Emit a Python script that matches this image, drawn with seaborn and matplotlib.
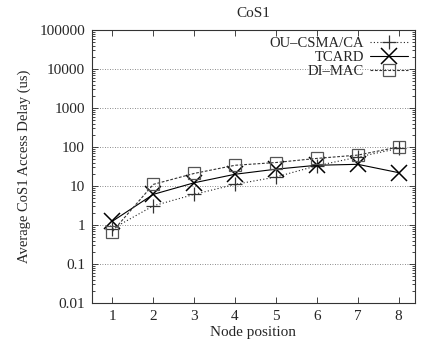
import matplotlib
matplotlib.use("Agg")
import matplotlib.pyplot as plt
import matplotlib.ticker as mticker
import seaborn as sns
import pandas as pd
import numpy as np

nodes = [1, 2, 3, 4, 5, 6, 7, 8]
ou_csma = [0.8, 3.1, 6.1, 11, 17, 33, 55, 92]
tcard = [1.25, 6.1, 12.1, 20, 27, 34, 36, 22]
di_mac = [0.68, 11, 21, 34, 40, 51, 62, 100]
series_names = ["OU\u2013CSMA/CA", "TCARD", "DI\u2013MAC"]
x_ticks = [1, 2, 3, 4, 5, 6, 7, 8]
y_ticks = [0.01, 0.1, 1, 10, 100, 1000, 10000, 100000]
y_tick_labels = ["0.01", "0.1", "1", "10", "100", "1000", "10000", "100000"]

sns.set_style("ticks")
plt.rcParams["font.family"] = ["Liberation Serif", "DejaVu Serif"]

fig = plt.figure(figsize=(4.21, 3.48), dpi=100)
ax = fig.add_axes([0.2185, 0.1293, 0.767, 0.7845])

styles = [
    dict(marker="+", ms=10, mew=0.9, ls=(0, (1, 2)), color="#222222", mec="#333333"),
    dict(marker="x", ms=11, mew=1.1, ls="-", color="#000000", mec="#000000"),
    dict(marker="s", ms=9, mew=0.9, ls=(0, (2.5, 1.5)), color="#333333", mec="#555555"),
]
for vals, name, st in zip([ou_csma, tcard, di_mac], series_names, styles):
    d = pd.DataFrame({"node": nodes, "delay": vals})
    sns.lineplot(data=d, x="node", y="delay", ax=ax, color=st["color"],
                 linestyle=st["ls"], linewidth=0.8, marker=st["marker"],
                 markersize=st["ms"], markeredgewidth=st["mew"],
                 markeredgecolor=st["mec"], markerfacecolor="none", label=name)

ax.set_yscale("log")
ax.set_ylim(0.01, 100000)
ax.set_xlim(0.5, 8.4)
ax.set_xticks(x_ticks)
ax.set_xticklabels([str(v) for v in x_ticks])
ax.set_yticks(y_ticks)
ax.set_yticklabels(y_tick_labels)
ax.yaxis.set_minor_locator(mticker.LogLocator(base=10, subs=(2, 3, 4, 5, 6, 7, 8, 9), numticks=20))
ax.yaxis.set_minor_formatter(mticker.NullFormatter())
ax.tick_params(axis="both", which="both", direction="in", top=True, right=True,
               labelsize=11, width=0.6)
ax.tick_params(axis="both", which="major", length=4, pad=5)
ax.tick_params(axis="y", which="minor", length=2)
ax.tick_params(axis="x", which="minor", bottom=False, top=False)

ax.grid(axis="y", which="major", linestyle=(0, (1, 2)), color="#666666", linewidth=0.6)
ax.grid(axis="x", visible=False)
for s in ax.spines.values():
    s.set_visible(True)
    s.set_linewidth(0.8)
    s.set_color("#333333")

ax.set_xlabel("Node position", fontsize=11, labelpad=2)
ax.set_ylabel("Average CoS1 Access Delay (us)", fontsize=10.5, labelpad=6)
ax.set_title("CoS1", fontsize=11, pad=9)

leg = ax.legend(loc="upper right", frameon=False,
                markerfirst=False, fontsize=10.5, handlelength=2.6,
                labelspacing=0.05, borderaxespad=0.3, borderpad=0.2,
                handletextpad=0.4, alignment="right")

fig.savefig("out.png", dpi=100)
